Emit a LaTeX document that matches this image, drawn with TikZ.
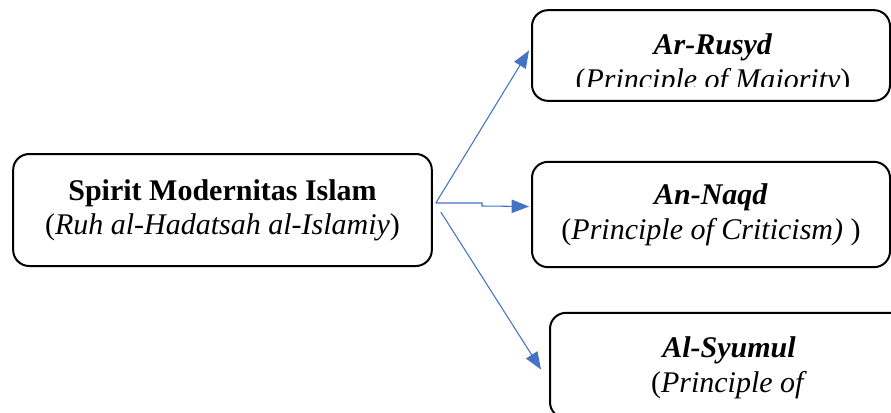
\documentclass[tikz,border=0pt]{standalone}
\usepackage{fontspec}
\setmainfont{Liberation Serif}
\usetikzlibrary{arrows.meta}
\definecolor{linkblue}{HTML}{4472C4}
\begin{document}
\begin{tikzpicture}[x=0.75pt,y=-0.75pt,
  box/.style={draw, line width=1.5pt, rounded corners=12pt, align=center, inner sep=0pt},
  link/.style={linkblue, line width=0.8pt, -{Triangle[length=13pt,width=10pt]}},
  mainfont/.style={font=\fontsize{22.5}{25.5}\selectfont},
  sidefont/.style={font=\fontsize{22.5}{26}\selectfont}]

\useasboundingbox (0,0) rectangle (891,412);
\clip (0,0) rectangle (891,412);

% left box
\node[box, mainfont, minimum width=314pt, minimum height=84pt] (spirit) at (222.5,210)
  {\textbf{Spirit Modernitas Islam}\\(\textit{Ruh al-Hadatsah al-Islamiy})};

% right boxes
\node[box, minimum width=268.5pt, minimum height=68pt] (rusyd) at (711,55.5) {};
\begin{scope}
\clip (532,10) rectangle (891,86);
\node[sidefont, align=center] (rusydtext) at (713,65)
  {\textbf{\textit{Ar-Rusyd}}\\(\textit{Principle of Majority})};
\end{scope}

\node[box, sidefont, minimum width=268.5pt, minimum height=79pt] (naqd) at (711,214.5)
  {\textbf{\textit{An-Naqd}}\\(\textit{Principle of Criticism) })};

\node[box, minimum width=268.5pt, minimum height=79pt] (syumul) at (729,365.5) {};
\node[sidefont, align=center] (syumultext) at (729,368)
  {\textbf{\textit{Al-Syumul}}\\(\textit{Principle of}};

% links
\coordinate (fork) at ([shift={(3,-7)}]spirit.east);
\draw[link] (fork) -- ([shift={(-2,-5)}]rusyd.west);
\draw[link] (fork) -- (482,203) -- (482,206) -- ([shift={(-2,-8)}]naqd.west);
\draw[link] ([shift={(8,2)}]spirit.east) -- ([shift={(-8,4)}]syumul.west);
\end{tikzpicture}
\end{document}
